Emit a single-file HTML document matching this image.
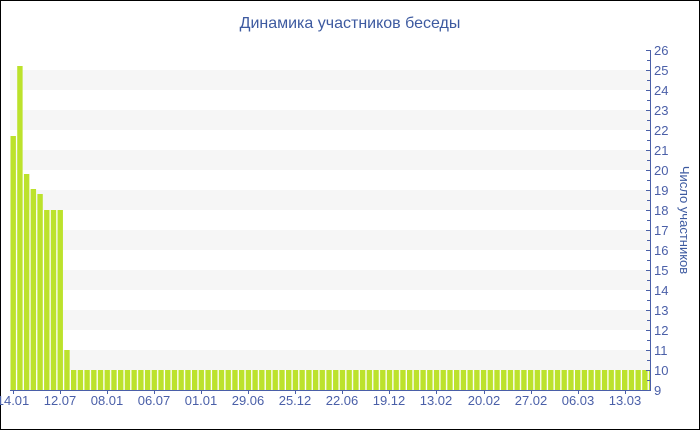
<!DOCTYPE html>
<html><head><meta charset="utf-8"><style>
html,body{margin:0;padding:0;background:#fff}
svg{display:block}
text{font-family:"Liberation Sans","DejaVu Sans",sans-serif}
</style></head><body>
<svg width="700" height="430" viewBox="0 0 700 430" xmlns="http://www.w3.org/2000/svg">
<defs>
<pattern id="p" patternUnits="userSpaceOnUse" x="10.5" y="0" width="6.72" height="430">
<rect x="0" y="0" width="5.4" height="430" fill="#bce22c"/>
</pattern>
</defs>
<rect x="0.5" y="0.5" width="699" height="429" fill="#fff" stroke="#000"/>
<text x="350" y="28" text-anchor="middle" font-size="16" fill="#3d5aa0">Динамика участников беседы</text>
<g fill="#f6f6f6">
<rect x="10" y="70" width="640" height="20"/><rect x="10" y="110" width="640" height="20"/>
<rect x="10" y="150" width="640" height="20"/><rect x="10" y="190" width="640" height="20"/>
<rect x="10" y="230" width="640" height="20"/><rect x="10" y="270" width="640" height="20"/>
<rect x="10" y="310" width="640" height="20"/><rect x="10" y="350" width="640" height="20"/>
</g>
<g fill="#bce22c">
<rect x="10.5" y="136" width="5.4" height="254"/>
<rect x="17.22" y="66" width="5.4" height="324"/>
<rect x="23.94" y="174" width="5.4" height="216"/>
<rect x="30.66" y="189" width="5.4" height="201"/>
<rect x="37.38" y="194" width="5.4" height="196"/>
<rect x="44.1" y="210" width="5.4" height="180"/>
<rect x="50.82" y="210" width="5.4" height="180"/>
<rect x="57.54" y="210" width="5.4" height="180"/>
<rect x="64.26" y="350" width="5.4" height="40"/>
</g>
<rect x="70.98" y="370" width="579" height="20" fill="url(#p)"/>
<line x1="10" y1="390.5" x2="650" y2="390.5" stroke="#4a5fa8"/>
<line x1="650.5" y1="50" x2="650.5" y2="390" stroke="#4a5fa8"/>
<g stroke="#4a5fa8">
<path d="M646 50.5H651M646 70.5H651M646 90.5H651M646 110.5H651M646 130.5H651M646 150.5H651M646 170.5H651M646 190.5H651M646 210.5H651M646 230.5H651M646 250.5H651M646 270.5H651M646 290.5H651M646 310.5H651M646 330.5H651M646 350.5H651M646 370.5H651M646 390.5H651"/>
<path d="M647 60.5H650M647 80.5H650M647 100.5H650M647 120.5H650M647 140.5H650M647 160.5H650M647 180.5H650M647 200.5H650M647 220.5H650M647 240.5H650M647 260.5H650M647 280.5H650M647 300.5H650M647 320.5H650M647 340.5H650M647 360.5H650M647 380.5H650"/>
<path d="M13.5 390V394M60.5 390V394M107.5 390V394M154.5 390V394M201.5 390V394M248.5 390V394M295.5 390V394M342.5 390V394M389.5 390V394M436.5 390V394M484.5 390V394M531.5 390V394M578.5 390V394M625.5 390V394"/>
</g>
<g font-size="13" fill="#4a5fa8">
<text x="654" y="55">26</text><text x="654" y="75">25</text><text x="654" y="95">24</text>
<text x="654" y="115">23</text><text x="654" y="135">22</text><text x="654" y="155">21</text>
<text x="654" y="175">20</text><text x="654" y="195">19</text><text x="654" y="215">18</text>
<text x="654" y="235">17</text><text x="654" y="255">16</text><text x="654" y="275">15</text>
<text x="654" y="295">14</text><text x="654" y="315">13</text><text x="654" y="335">12</text>
<text x="654" y="355">11</text><text x="654" y="375">10</text><text x="654" y="395">9</text>
</g>
<g font-size="13" fill="#4a5fa8" text-anchor="middle">
<text x="13" y="405">14.01</text><text x="60" y="405">12.07</text><text x="107" y="405">08.01</text>
<text x="154" y="405">06.07</text><text x="201" y="405">01.01</text><text x="248" y="405">29.06</text>
<text x="295" y="405">25.12</text><text x="342" y="405">22.06</text><text x="389" y="405">19.12</text>
<text x="436" y="405">13.02</text><text x="484" y="405">20.02</text><text x="531" y="405">27.02</text>
<text x="578" y="405">06.03</text><text x="625" y="405">13.03</text>
</g>
<text transform="translate(680,220) rotate(90)" text-anchor="middle" font-size="13" fill="#3d5aa0">Число участников</text>
</svg>
</body></html>
